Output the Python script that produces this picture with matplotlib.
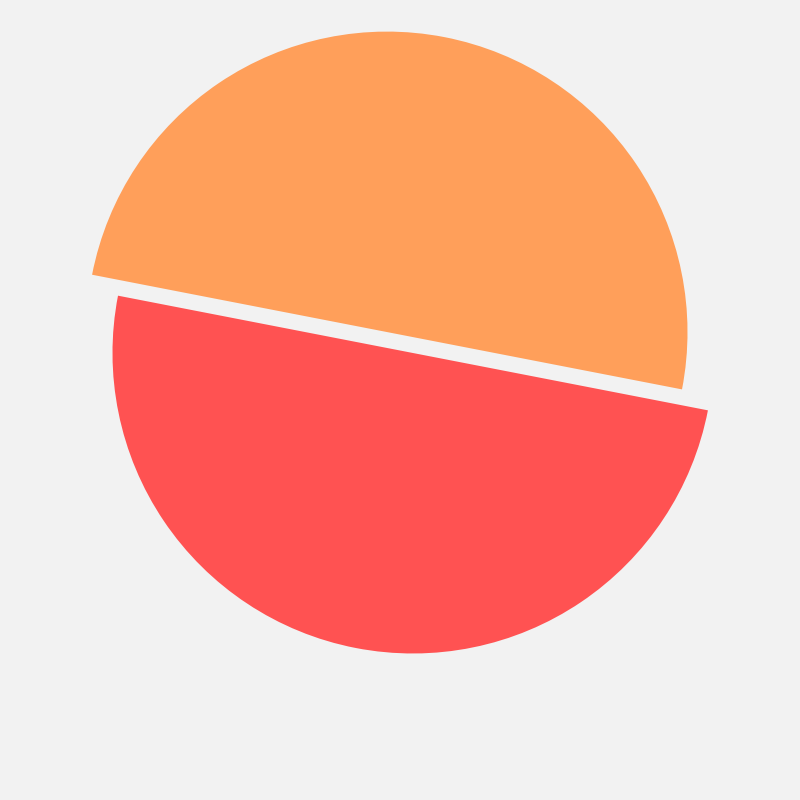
import matplotlib
matplotlib.use('Agg')
import matplotlib.pyplot as plt
import matplotlib.transforms as mtransforms
import numpy as np

labels = ['A', 'B']
values = [50, 50]
colors = ['#ff9f5a', '#ff5252']

# layout: explode normal to the cut, plus a slide along it
explode = [0.026, 0.026]
slide = [-0.049, 0.049]
start_angle = -11

fig = plt.figure(figsize=(8, 8), dpi=100, facecolor='#f2f2f2')
ax = fig.add_axes([0, 0, 1, 1])
ax.set_facecolor('#f2f2f2')

wedges, _ = ax.pie(values, colors=colors, startangle=start_angle, counterclock=True,
                   explode=explode, radius=1, wedgeprops={'linewidth': 0})

ang = np.deg2rad(start_angle)
for w, s in zip(wedges, slide):
    w.set_transform(mtransforms.Affine2D().translate(s * np.cos(ang), s * np.sin(ang)) + ax.transData)

ax.set_xlim(-1.331, 1.331)
ax.set_ylim(-1.5225, 1.140)
ax.set_aspect('equal')
ax.axis('off')

fig.savefig('out.png', dpi=100, facecolor=fig.get_facecolor())
